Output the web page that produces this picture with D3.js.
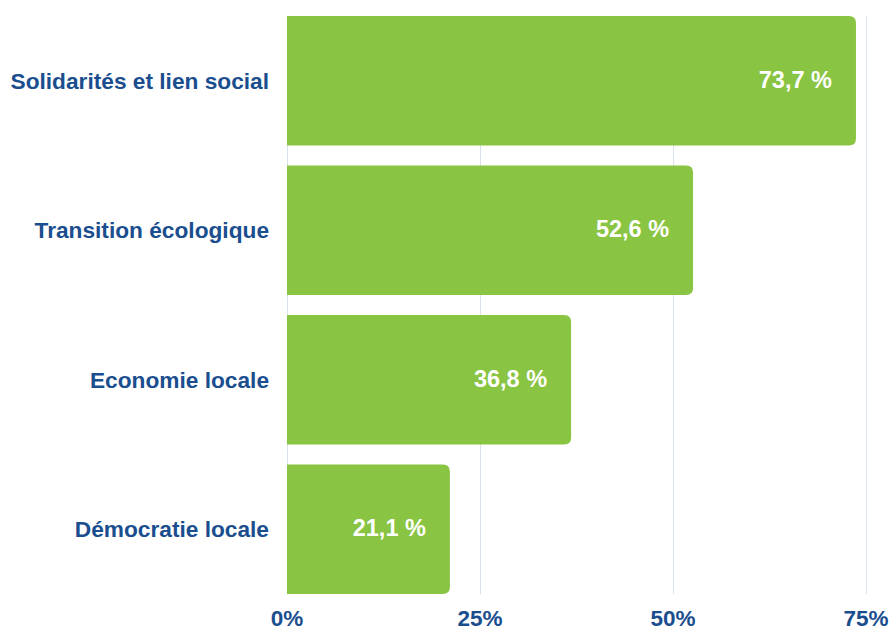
<!DOCTYPE html>
<html><head><meta charset="utf-8">
<script src="https://cdn.jsdelivr.net/npm/d3@7"></script>
<style>html,body{margin:0;padding:0;background:#fff;}svg{display:block;}</style>
</head><body>
<svg id="chart" width="889" height="628"></svg>
<script>
const categories = ["Solidarités et lien social", "Transition écologique", "Economie locale", "Démocratie locale"];
const values = [73.7, 52.6, 36.8, 21.1];
const tickValues = [0, 25, 50, 75];

const W = 889, H = 628;
const margin = {left: 287, right: 23, top: 16, bottom: 34};
const svg = d3.select("#chart");
const blue = "#1a4e8e", green = "#89c442", grid = "#d8e1ec";
const font = "'Liberation Sans', Arial, sans-serif";

const x = d3.scaleLinear().domain([0, 75]).range([margin.left, W - margin.right]);
const y = d3.scaleBand().domain(categories).range([margin.top, H - margin.bottom]).paddingInner(0.1333).paddingOuter(0);

// grid
svg.append("g").selectAll("line").data(tickValues).join("line")
  .attr("x1", d => x(d) + 0.5).attr("x2", d => x(d) + 0.5)
  .attr("y1", margin.top).attr("y2", H - margin.bottom)
  .attr("stroke", grid).attr("stroke-width", 1);

// bars with rounded right corners
const r = 7;
function barPath(x0, x1, y0, h) {
  const rr = Math.min(r, (x1 - x0));
  return `M${x0},${y0}H${x1 - rr}Q${x1},${y0} ${x1},${y0 + rr}V${y0 + h - rr}Q${x1},${y0 + h} ${x1 - rr},${y0 + h}H${x0}Z`;
}
svg.append("g").selectAll("path").data(categories).join("path")
  .attr("d", (c, i) => barPath(x(0), x(values[i]), y(c), y.bandwidth()))
  .attr("fill", green);

// value labels
svg.append("g").selectAll("text").data(categories).join("text")
  .attr("x", (c, i) => x(values[i]) - 24)
  .attr("y", c => y(c) + y.bandwidth() / 2 + 7)
  .attr("text-anchor", "end")
  .attr("font-family", font).attr("font-weight", "bold").attr("font-size", 23.5)
  .attr("fill", "#fff")
  .text((c, i) => values[i].toFixed(1).replace(".", ",") + " %");

// category labels
svg.append("g").selectAll("text").data(categories).join("text")
  .attr("x", margin.left - 18)
  .attr("y", c => y(c) + y.bandwidth() / 2 + 8)
  .attr("text-anchor", "end")
  .attr("font-family", font).attr("font-weight", "bold").attr("font-size", 22.7)
  .attr("fill", blue)
  .text(c => c);

// x tick labels
svg.append("g").selectAll("text").data(tickValues).join("text")
  .attr("x", d => x(d))
  .attr("y", 626)
  .attr("text-anchor", "middle")
  .attr("font-family", font).attr("font-weight", "bold").attr("font-size", 22.5)
  .attr("fill", blue)
  .text(d => d + "%");
</script>
</body></html>
